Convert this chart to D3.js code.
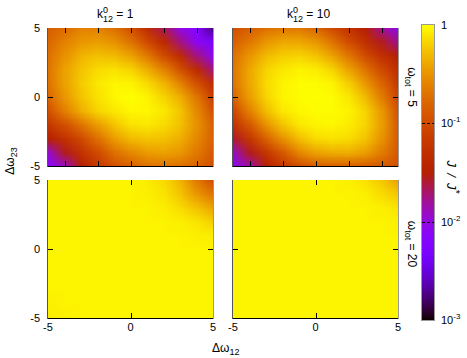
<!DOCTYPE html>
<html>
<head>
<meta charset="utf-8">
<script src="https://cdn.jsdelivr.net/npm/d3@7"></script>
<style>
body { margin: 0; background: #fff; }
text { font-family: "Liberation Sans", Arial, sans-serif; fill: #000; }
</style>
</head>
<body>
<svg id="chart" width="467" height="358"></svg>
<script>
// grid of the maps: columns are dw12, rows are dw23 (top row = +5)
var gridX = [-5, -4, -3, -2, -1, 0, 1, 2, 3, 4, 5];
var gridY = [5, 4, 3, 2, 1, 0, -1, -2, -3, -4, -5];

// J / J*, k12 = 1, w_tot = 5
var jK1W5 = [
  [0.145, 0.178, 0.25, 0.25, 0.19, 0.11, 0.048, 0.022, 0.0091, 0.0065, 0.0018],
  [0.166, 0.25, 0.33, 0.36, 0.31, 0.2, 0.095, 0.045, 0.018, 0.0079, 0.0056],
  [0.19, 0.31, 0.47, 0.54, 0.5, 0.38, 0.22, 0.1, 0.045, 0.018, 0.0079],
  [0.21, 0.38, 0.56, 0.71, 0.76, 0.66, 0.44, 0.25, 0.11, 0.045, 0.018],
  [0.2, 0.38, 0.6, 0.81, 0.93, 0.9, 0.71, 0.47, 0.25, 0.11, 0.045],
  [0.166, 0.33, 0.56, 0.76, 0.93, 1.0, 0.9, 0.66, 0.44, 0.21, 0.072],
  [0.11, 0.24, 0.44, 0.66, 0.81, 0.93, 0.93, 0.81, 0.56, 0.27, 0.11],
  [0.063, 0.11, 0.2, 0.35, 0.56, 0.76, 0.81, 0.71, 0.54, 0.31, 0.145],
  [0.032, 0.055, 0.095, 0.19, 0.35, 0.5, 0.56, 0.54, 0.44, 0.27, 0.145],
  [0.011, 0.028, 0.055, 0.1, 0.19, 0.27, 0.35, 0.38, 0.33, 0.22, 0.126],
  [0.0069, 0.012, 0.032, 0.063, 0.11, 0.145, 0.19, 0.2, 0.19, 0.155, 0.11]
];

// J / J*, k12 = 10, w_tot = 5
var jK10W5 = [
  [0.11, 0.145, 0.19, 0.22, 0.22, 0.166, 0.095, 0.055, 0.032, 0.016, 0.0079],
  [0.145, 0.22, 0.33, 0.41, 0.41, 0.33, 0.2, 0.1, 0.052, 0.028, 0.016],
  [0.19, 0.33, 0.5, 0.62, 0.66, 0.56, 0.38, 0.21, 0.1, 0.052, 0.032],
  [0.21, 0.41, 0.66, 0.81, 0.9, 0.85, 0.66, 0.38, 0.2, 0.095, 0.048],
  [0.2, 0.41, 0.71, 0.9, 0.97, 0.97, 0.9, 0.62, 0.33, 0.16, 0.063],
  [0.155, 0.36, 0.66, 0.9, 0.97, 1.0, 0.97, 0.81, 0.5, 0.23, 0.083],
  [0.089, 0.25, 0.52, 0.81, 0.93, 0.97, 0.97, 0.9, 0.66, 0.33, 0.11],
  [0.055, 0.13, 0.31, 0.56, 0.81, 0.9, 0.93, 0.85, 0.66, 0.36, 0.126],
  [0.026, 0.063, 0.15, 0.31, 0.52, 0.71, 0.76, 0.71, 0.56, 0.31, 0.126],
  [0.012, 0.028, 0.063, 0.13, 0.27, 0.38, 0.44, 0.44, 0.36, 0.23, 0.126],
  [0.0079, 0.014, 0.032, 0.063, 0.1, 0.135, 0.145, 0.145, 0.135, 0.126, 0.11]
];

// J / J*, k12 = 1, w_tot = 20
var jK1W20 = [
  [0.9, 0.9, 0.9, 0.9, 0.9, 0.9, 0.85, 0.71, 0.47, 0.22, 0.1],
  [0.9, 0.9, 0.9, 0.9, 0.9, 0.9, 0.87, 0.78, 0.56, 0.33, 0.2],
  [0.9, 0.9, 0.9, 0.9, 0.9, 0.9, 0.9, 0.85, 0.71, 0.54, 0.38],
  [0.9, 0.9, 0.9, 0.9, 0.9, 0.9, 0.9, 0.9, 0.87, 0.78, 0.62],
  [0.9, 0.9, 0.9, 0.9, 0.9, 0.9, 0.9, 0.9, 0.9, 0.87, 0.85],
  [0.9, 0.9, 0.9, 0.9, 0.9, 0.9, 0.9, 0.9, 0.9, 0.9, 0.9],
  [0.9, 0.9, 0.9, 0.9, 0.9, 0.9, 0.9, 0.9, 0.9, 0.9, 0.9],
  [0.9, 0.9, 0.9, 0.9, 0.9, 0.9, 0.9, 0.9, 0.9, 0.9, 0.9],
  [0.9, 0.9, 0.9, 0.9, 0.9, 0.9, 0.9, 0.9, 0.9, 0.9, 0.9],
  [0.87, 0.9, 0.9, 0.9, 0.9, 0.9, 0.9, 0.9, 0.9, 0.9, 0.9],
  [0.85, 0.87, 0.9, 0.9, 0.9, 0.9, 0.9, 0.9, 0.9, 0.9, 0.9]
];

// J / J*, k12 = 10, w_tot = 20
var jK10W20 = [
  [0.9, 0.9, 0.9, 0.9, 0.9, 0.9, 0.9, 0.87, 0.76, 0.58, 0.37],
  [0.9, 0.9, 0.9, 0.9, 0.9, 0.9, 0.9, 0.9, 0.87, 0.71, 0.58],
  [0.9, 0.9, 0.9, 0.9, 0.9, 0.9, 0.9, 0.9, 0.9, 0.87, 0.76],
  [0.9, 0.9, 0.9, 0.9, 0.9, 0.9, 0.9, 0.9, 0.9, 0.9, 0.87],
  [0.9, 0.9, 0.9, 0.9, 0.9, 0.9, 0.9, 0.9, 0.9, 0.9, 0.9],
  [0.9, 0.9, 0.9, 0.9, 0.9, 0.9, 0.9, 0.9, 0.9, 0.9, 0.9],
  [0.9, 0.9, 0.9, 0.9, 0.9, 0.9, 0.9, 0.9, 0.9, 0.9, 0.9],
  [0.9, 0.9, 0.9, 0.9, 0.9, 0.9, 0.9, 0.9, 0.9, 0.9, 0.9],
  [0.9, 0.9, 0.9, 0.9, 0.9, 0.9, 0.9, 0.9, 0.9, 0.9, 0.9],
  [0.9, 0.9, 0.9, 0.9, 0.9, 0.9, 0.9, 0.9, 0.9, 0.9, 0.9],
  [0.9, 0.9, 0.9, 0.9, 0.9, 0.9, 0.9, 0.9, 0.9, 0.9, 0.9]
];

var colTitles = ["1", "10"];          // k12^0
var rowTitles = ["5", "20"];          // w_tot
var xTickLabels = [-5, 0, 5];
var yTickLabels = [5, 0, -5];
var cbTicks = [1, 0.1, 0.01, 0.001];
var cbTickExp = ["", "-1", "-2", "-3"];

var svg = d3.select("#chart");
var W = 165, H = 138;

// gnuplot default palette (rgbformulae 7,5,15)
var palette = function(t){
    var r = Math.sqrt(t), g = t * t * t, b = Math.sin(2 * Math.PI * t);
    var f = function(c){ return Math.round(255 * Math.max(0, Math.min(1, c))); };
    return d3.rgb(f(r), f(g), f(b));
};
var colorPos = d3.scaleLog().domain([1e-3, 1]).range([0, 1]).clamp(true);
var color = function(v){ return palette(colorPos(v)); };

// one pixel per grid value, the browser smooths it when scaled up
var heatImage = function(vals){
    var m = vals[0].length, n = vals.length;
    var cv = document.createElement("canvas");
    cv.width = m; cv.height = n;
    var ctx = cv.getContext("2d");
    var img = ctx.createImageData(m, n);
    vals.forEach(function(row, j){
        row.forEach(function(v, i){
            var c = color(v), k = 4 * (j * m + i);
            img.data[k] = c.r; img.data[k + 1] = c.g; img.data[k + 2] = c.b; img.data[k + 3] = 255;
        });
    });
    ctx.putImageData(img, 0, 0);
    return cv.toDataURL();
};

var panels = [
    {vals: jK1W5,   x0: 48,  y0: 28,  row: 0, col: 0},
    {vals: jK10W5,  x0: 233, y0: 28,  row: 0, col: 1},
    {vals: jK1W20,  x0: 48,  y0: 180, row: 1, col: 0},
    {vals: jK10W20, x0: 233, y0: 180, row: 1, col: 1}
];
var rowLabelY = [87, 244];

var defs = svg.append("defs");

panels.forEach(function(p, idx){
    var x = d3.scaleLinear().domain([-5, 5]).range([p.x0, p.x0 + W]);
    var y = d3.scaleLinear().domain([-5, 5]).range([p.y0 + H, p.y0]);
    var step = gridX[1] - gridX[0];

    defs.append("clipPath").attr("id", "clip" + idx)
        .append("rect").attr("x", p.x0).attr("y", p.y0).attr("width", W).attr("height", H);

    var g = svg.append("g");
    g.append("image")
        .attr("href", heatImage(p.vals))
        .attr("x", x(gridX[0] - step / 2))
        .attr("y", y(gridY[0] + step / 2))
        .attr("width", x(gridX[gridX.length - 1] + step / 2) - x(gridX[0] - step / 2))
        .attr("height", y(gridY[gridY.length - 1] - step / 2) - y(gridY[0] + step / 2))
        .attr("preserveAspectRatio", "none")
        .attr("clip-path", "url(#clip" + idx + ")")
        .style("image-rendering", "auto");

    // frame
    g.append("line").attr("x1", p.x0).attr("x2", p.x0 + W).attr("y1", p.y0 + H + 0.5).attr("y2", p.y0 + H + 0.5)
        .attr("stroke", "#000");
    g.append("line").attr("x1", p.x0 - 0.5).attr("x2", p.x0 - 0.5).attr("y1", p.y0).attr("y2", p.y0 + H + 1)
        .attr("stroke", "#555");
    g.append("line").attr("x1", p.x0 + W + 0.5).attr("x2", p.x0 + W + 0.5).attr("y1", p.y0).attr("y2", p.y0 + H + 1)
        .attr("stroke", "#999");

    // ticks (inward)
    var xt = p.row === 0 ? [-4, -2, 0, 2, 4] : [0];
    xt.forEach(function(v){
        g.append("line").attr("x1", Math.round(x(v)) + 0.5).attr("x2", Math.round(x(v)) + 0.5)
            .attr("y1", p.y0).attr("y2", p.y0 + 5).attr("stroke", "#000");
        g.append("line").attr("x1", Math.round(x(v)) + 0.5).attr("x2", Math.round(x(v)) + 0.5)
            .attr("y1", p.y0 + H).attr("y2", p.y0 + H - 5).attr("stroke", "#000");
    });
    [0].forEach(function(v){
        g.append("line").attr("x1", p.x0).attr("x2", p.x0 + 5)
            .attr("y1", Math.round(y(v)) + 0.5).attr("y2", Math.round(y(v)) + 0.5).attr("stroke", "#000");
        g.append("line").attr("x1", p.x0 + W).attr("x2", p.x0 + W - 5)
            .attr("y1", Math.round(y(v)) + 0.5).attr("y2", Math.round(y(v)) + 0.5).attr("stroke", "#000");
    });

    // tick labels
    if (p.col === 0) {
        g.selectAll(".ytl").data(yTickLabels).enter().append("text")
            .attr("x", p.x0 - 8).attr("y", function(d){ return y(d) + 4; })
            .attr("text-anchor", "end").style("font-size", "11px")
            .text(function(d){ return d; });
    }
    if (p.row === 1) {
        g.selectAll(".xtl").data(xTickLabels).enter().append("text")
            .attr("x", function(d){ return x(d); }).attr("y", p.y0 + H + 13)
            .attr("text-anchor", "middle").style("font-size", "11px")
            .text(function(d){ return d; });
    }

    // column titles
    if (p.row === 0) {
        var t = g.append("text").attr("x", p.col === 0 ? 97 : 287).attr("y", 18).style("font-size", "12px");
        t.append("tspan").text("k");
        t.append("tspan").attr("dy", -5).style("font-size", "9px").text("0");
        t.append("tspan").attr("dx", -5).attr("dy", 9).style("font-size", "9px").text("12");
        t.append("tspan").attr("dy", -4).text(" = " + colTitles[p.col]);
    }

    // row titles
    if (p.col === 1) {
        var r = g.append("text")
            .attr("transform", "translate(" + (p.x0 + W + 10) + "," + rowLabelY[p.row] + ") rotate(90)")
            .attr("text-anchor", "middle").style("font-size", "12px");
        r.append("tspan").text("\u03c9");
        r.append("tspan").attr("dy", 3).style("font-size", "9px").text("tot");
        r.append("tspan").attr("dy", -3).text(" = " + rowTitles[p.row]);
    }
});

// axis labels
var xl = svg.append("text").attr("x", 212).attr("y", 352).style("font-size", "12px");
xl.append("tspan").text("\u0394\u03c9");
xl.append("tspan").attr("dy", 3).style("font-size", "9px").text("12");

var yl = svg.append("text").attr("transform", "translate(14,161) rotate(-90)")
    .attr("text-anchor", "middle").style("font-size", "12px");
yl.append("tspan").text("\u0394\u03c9");
yl.append("tspan").attr("dy", 3).style("font-size", "9px").text("23");

// colour box
var cbX = 422, cbW = 12;
var cb = d3.scaleLog().domain([1e-3, 1]).range([320, 25]);
var cbg = svg.append("g");
cbg.selectAll("rect.cb").data(d3.range(25, 320)).enter().append("rect")
    .attr("class", "cb")
    .attr("x", cbX).attr("y", function(d){ return d; })
    .attr("width", cbW).attr("height", 1.2)
    .attr("fill", function(d){ return color(cb.invert(d + 0.5)); });
cbg.append("rect").attr("x", cbX - 0.5).attr("y", 24.5).attr("width", cbW + 1).attr("height", 296)
    .attr("fill", "none").attr("stroke", "#999");
cbg.selectAll(".cbt").data(cbTicks.slice(1, 3)).enter().append("line")
    .attr("x1", cbX).attr("x2", cbX + cbW)
    .attr("y1", function(d){ return Math.round(cb(d)) + 0.5; })
    .attr("y2", function(d){ return Math.round(cb(d)) + 0.5; })
    .attr("stroke", "#000").attr("stroke-dasharray", "3,2");
cbTicks.forEach(function(v, i){
    var tx = cbg.append("text").attr("x", cbX + cbW + 7).attr("y", cb(v) + 4).style("font-size", "11px");
    if (cbTickExp[i] === "") {
        tx.text("1");
    } else {
        tx.append("tspan").text("10");
        tx.append("tspan").attr("dy", -5).style("font-size", "8px").text(cbTickExp[i]);
    }
});
var cbl = svg.append("text").attr("transform", "translate(447,177) rotate(90)")
    .attr("text-anchor", "middle").style("font-size", "13px").style("font-style", "italic");
cbl.append("tspan").text("J \u2009/\u2009 J");
cbl.append("tspan").attr("dy", -5).style("font-size", "10px").text("*");
</script>
</body>
</html>
